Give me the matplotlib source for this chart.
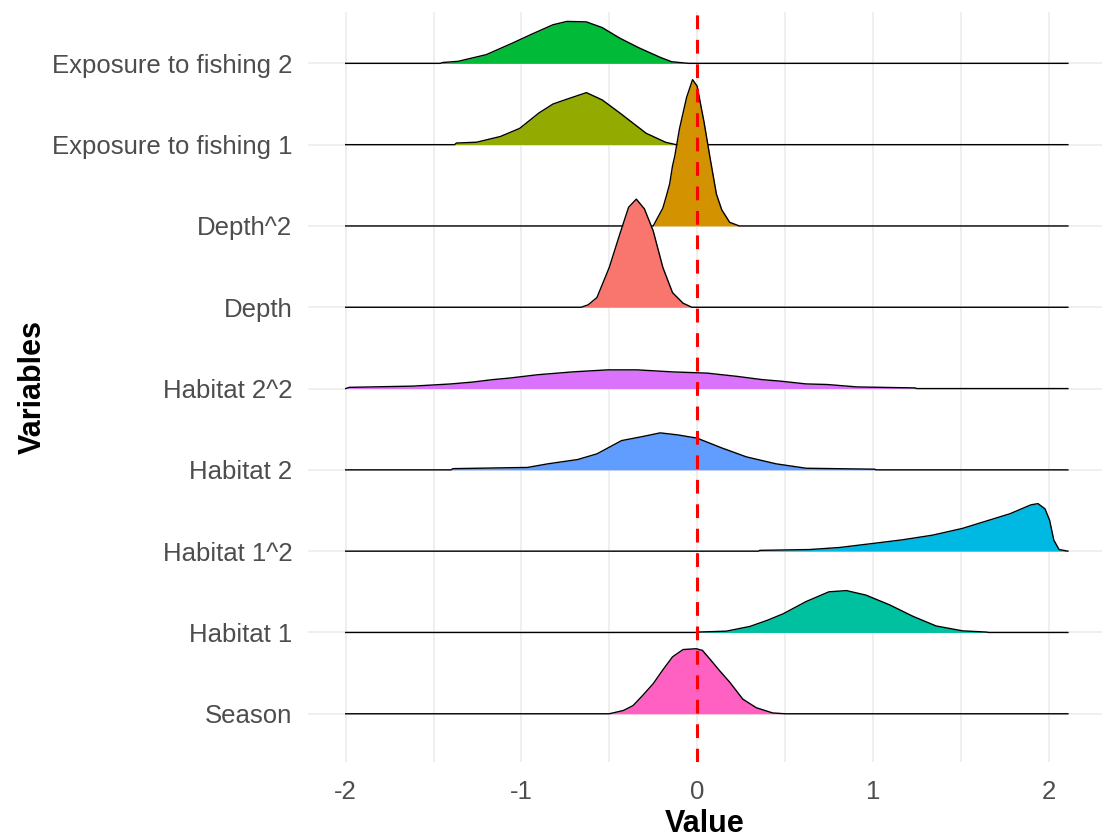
import matplotlib
matplotlib.use('Agg')
import matplotlib.pyplot as plt

plt.rcParams['font.family'] = ['Liberation Sans', 'DejaVu Sans']

# variables from bottom row to top row
variables = ['Season', 'Habitat 1', 'Habitat 1^2', 'Habitat 2', 'Habitat 2^2',
             'Depth', 'Depth^2', 'Exposure to fishing 1', 'Exposure to fishing 2']
colors = ['#FF61C3', '#00C19F', '#00B9E3', '#619CFF', '#DB72FB',
          '#F8766D', '#D39200', '#93AA00', '#00BA38']

# density curves (height in row units)
season_x = [-2.0, -0.50, -0.42, -0.365, -0.31, -0.25, -0.195, -0.14, -0.08, -0.005, 0.03, 0.07, 0.128, 0.185, 0.26, 0.337, 0.43, 0.5, 2.11]
season_d = [0, 0, 0.04, 0.10, 0.225, 0.37, 0.54, 0.70, 0.79, 0.80, 0.78, 0.68, 0.53, 0.39, 0.18, 0.074, 0.01, 0, 0]

hab1_x = [-2.0, -0.01, 0.0, 0.166, 0.30, 0.40, 0.49, 0.62, 0.75, 0.85, 0.96, 1.095, 1.23, 1.36, 1.51, 1.645, 1.66, 2.11]
hab1_d = [0, 0, 0.005, 0.016, 0.074, 0.15, 0.23, 0.38, 0.50, 0.515, 0.46, 0.34, 0.197, 0.08, 0.02, 0.005, 0, 0]

hab1sq_x = [-2.0, 0.35, 0.356, 0.64, 0.81, 1.02, 1.17, 1.34, 1.51, 1.63, 1.78, 1.90, 1.94, 1.98, 2.006, 2.03, 2.06, 2.11]
hab1sq_d = [0, 0, 0.01, 0.02, 0.045, 0.10, 0.14, 0.197, 0.28, 0.36, 0.46, 0.57, 0.585, 0.52, 0.38, 0.135, 0.02, 0]

hab2_x = [-2.0, -1.40, -1.39, -0.965, -0.85, -0.68, -0.57, -0.43, -0.31, -0.21, -0.11, 0.0, 0.14, 0.28, 0.45, 0.62, 1.01, 1.02, 2.11]
hab2_d = [0, 0, 0.015, 0.03, 0.074, 0.127, 0.197, 0.36, 0.41, 0.455, 0.43, 0.39, 0.27, 0.16, 0.074, 0.02, 0.008, 0, 0]

hab2sq_x = [-2.0, -1.98, -1.617, -1.40, -1.277, -1.163, -1.064, -0.908, -0.709, -0.51, -0.34, -0.14, 0.057, 0.227, 0.37, 0.48, 0.62, 0.74, 0.91, 1.24, 1.25, 2.11]
hab2sq_d = [0, 0.015, 0.03, 0.057, 0.08, 0.11, 0.13, 0.17, 0.205, 0.23, 0.23, 0.205, 0.19, 0.15, 0.11, 0.09, 0.057, 0.05, 0.02, 0.008, 0, 0]

depth_x = [-2.0, -0.66, -0.62, -0.57, -0.50, -0.44, -0.39, -0.346, -0.30, -0.25, -0.195, -0.14, -0.08, -0.03, 2.11]
depth_d = [0, 0, 0.03, 0.12, 0.49, 0.90, 1.23, 1.33, 1.21, 0.94, 0.49, 0.18, 0.05, 0, 0]

depthsq_x = [-2.0, -0.25, -0.22, -0.195, -0.175, -0.156, -0.14, -0.128, -0.10, -0.06, -0.026, 0.0, 0.04, 0.075, 0.11, 0.14, 0.185, 0.24, 2.11]
depthsq_d = [0, 0, 0.12, 0.22, 0.37, 0.52, 0.74, 0.85, 1.2, 1.58, 1.80, 1.72, 1.27, 0.82, 0.39, 0.2, 0.045, 0, 0]

fish1_x = [-2.0, -1.38, -1.37, -1.255, -1.12, -1.01, -0.90, -0.82, -0.74, -0.63, -0.54, -0.44, -0.29, -0.18, -0.12, 2.11]
fish1_d = [0, 0, 0.02, 0.03, 0.10, 0.20, 0.39, 0.50, 0.56, 0.64, 0.55, 0.39, 0.14, 0.03, 0, 0]

fish2_x = [-2.0, -1.46, -1.45, -1.36, -1.20, -1.05, -0.94, -0.82, -0.74, -0.63, -0.54, -0.44, -0.33, -0.21, -0.145, -0.05, 2.11]
fish2_d = [0, 0, 0.01, 0.025, 0.107, 0.25, 0.36, 0.475, 0.516, 0.51, 0.44, 0.31, 0.19, 0.074, 0.02, 0, 0]

curves = [(season_x, season_d), (hab1_x, hab1_d), (hab1sq_x, hab1sq_d),
          (hab2_x, hab2_d), (hab2sq_x, hab2sq_d), (depth_x, depth_d),
          (depthsq_x, depthsq_d), (fish1_x, fish1_d), (fish2_x, fish2_d)]

fig = plt.figure(figsize=(11.15, 8.38), dpi=100)
ax = fig.add_axes([0.276, 0.091, 0.712, 0.895])

# top rows drawn first so lower ridges sit on top
n = len(variables)
for i in reversed(range(n)):
    xs, ds = curves[i]
    top = [i + d for d in ds]
    z = 3 + (n - i)
    ax.fill_between(xs, i, top, color=colors[i], linewidth=0, zorder=z)
    ax.plot(xs, top, color='black', linewidth=1.0, zorder=z + 0.5)

ax.axvline(0, color='red', linewidth=2.2, linestyle=(0, (4.5, 3.5)), zorder=50)

ax.set_xlim(-2.216, 2.302)
ax.set_ylim(-0.59, 8.635)
ax.set_xticks([-2, -1, 0, 1, 2])
ax.set_xticklabels(['-2', '-1', '0', '1', '2'])
ax.set_xticks([-1.5, -0.5, 0.5, 1.5], minor=True)
ax.set_yticks(range(n))
ax.set_yticklabels(variables)

ax.grid(True, which='major', color='#EBEBEB', linewidth=1.1, zorder=0)
ax.grid(True, which='minor', axis='x', color='#EBEBEB', linewidth=1.1, zorder=0)
ax.set_axisbelow(True)
for s in ax.spines.values():
    s.set_visible(False)
ax.tick_params(axis='both', which='both', length=0, labelsize=18.5, labelcolor='#4D4D4D')
ax.tick_params(axis='y', pad=11)
ax.tick_params(axis='x', pad=13)

ax.set_xlabel('Value', fontsize=22, fontweight='bold', labelpad=4)
ax.set_ylabel('Variables', fontsize=22, fontweight='bold', labelpad=3)

fig.savefig('out.png', dpi=100)
